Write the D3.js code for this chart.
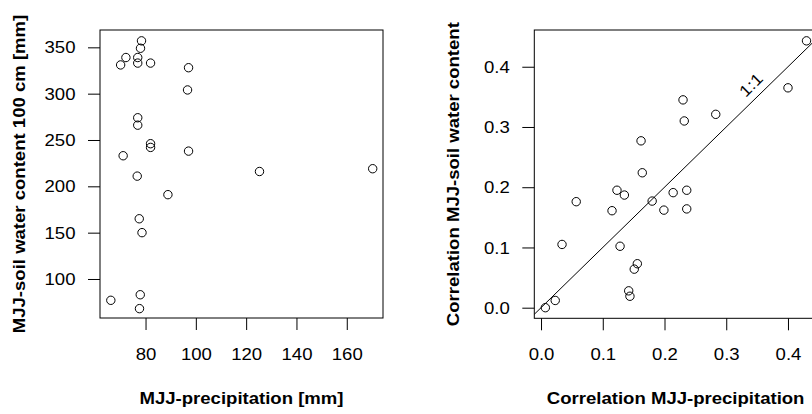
<!DOCTYPE html>
<html>
<head>
<meta charset="utf-8">
<script src="https://cdn.jsdelivr.net/npm/d3@7"></script>
<style>
  body { margin: 0; background: #fff; }
  svg { display: block; font-family: "Liberation Sans", Arial, Helvetica, sans-serif; }
</style>
</head>
<body>
<div id="chart"></div>
<script>
// left panel: MJJ precipitation vs soil water content
const precip = [70.1, 72.2, 76.9, 76.9, 78.4, 78.0, 82.0, 97.1, 96.7, 76.9, 76.9, 82.0,
                82.0, 71.1, 97.1, 76.7, 88.9, 125.3, 170.3, 77.5, 78.6, 66.2, 77.9, 77.6]
const soilWater = [331, 339, 339, 333, 357, 349, 333, 328, 304, 274, 266, 246,
                   242, 233, 238, 211, 191, 216, 219, 165, 150, 77, 83, 68]
const precipTicks = [80, 100, 120, 140, 160]
const soilTicks = [100, 150, 200, 250, 300, 350]

// right panel: correlations
const corPrecip = [0.430, 0.400, 0.283, 0.230, 0.232, 0.162, 0.164, 0.123, 0.135, 0.057, 0.180, 0.214, 0.236,
                   0.115, 0.199, 0.236, 0.034, 0.128, 0.156, 0.151, 0.142, 0.144, 0.023, 0.007]
const corSoil = [0.443, 0.365, 0.321, 0.345, 0.310, 0.277, 0.224, 0.195, 0.187, 0.176, 0.177, 0.191, 0.195,
                 0.161, 0.162, 0.164, 0.105, 0.102, 0.073, 0.064, 0.028, 0.019, 0.012, 0.000]
const corTicks = [0, 0.1, 0.2, 0.3, 0.4]
const oneToOne = [-0.05, 0.5]
const oneLabel = [0.34, 0.37]

const FS = 16, SX = 1.16

const svg = d3.select('#chart').append('svg')
    .attr('width', 812)
    .attr('height', 414)
svg.append('rect').attr('width', 812).attr('height', 414).attr('fill', '#fff')

const panel = (o) => {
    const g = svg.append('g')
    const x = d3.scaleLinear().domain(o.xDomain).range([o.left, o.right])
    const y = d3.scaleLinear().domain(o.yDomain).range([o.bottom, o.top])

    const ax = g.append('g')
        .attr('transform', 'translate(0,' + o.bottom + ')')
        .call(d3.axisBottom(x).tickValues(o.xTicks).tickSize(12).tickFormat(o.fmt))
    const ay = g.append('g')
        .attr('transform', 'translate(' + o.left + ',0)')
        .call(d3.axisLeft(y).tickValues(o.yTicks).tickSize(12).tickFormat(o.fmt))

    ;[ax, ay].forEach(a => {
        a.attr('font-family', null).attr('font-size', null)
        a.select('.domain').remove()
        a.selectAll('line').attr('stroke', '#000')
        a.selectAll('text').attr('fill', '#000').attr('font-size', FS)
    })
    ax.selectAll('text')
        .attr('y', null).attr('dy', null)
        .attr('transform', 'translate(0,42) scale(' + SX + ',1)')
    ay.selectAll('text')
        .attr('x', null).attr('dy', '0.35em')
        .attr('transform', 'translate(-24.5,0) scale(' + SX + ',1)')

    // box
    g.append('rect')
        .attr('x', o.left).attr('y', o.top)
        .attr('width', o.right - o.left).attr('height', o.bottom - o.top)
        .attr('fill', 'none').attr('stroke', '#000').attr('stroke-width', 1)

    // titles
    g.append('text')
        .attr('transform', 'translate(' + ((o.left + o.right) / 2) + ',404) scale(' + SX + ',1)')
        .attr('text-anchor', 'middle')
        .attr('font-weight', 'bold')
        .attr('font-size', FS)
        .text(o.xTitle)
    g.append('text')
        .attr('transform', 'translate(' + (o.left - 75) + ',' + ((o.top + o.bottom) / 2) + ') rotate(-90) scale(' + SX + ',1)')
        .attr('text-anchor', 'middle')
        .attr('font-weight', 'bold')
        .attr('font-size', FS)
        .text(o.yTitle)

    g.selectAll('circle.pt')
        .data(o.xs)
        .enter().append('circle')
        .attr('class', 'pt')
        .attr('cx', d => x(d))
        .attr('cy', (d, i) => y(o.ys[i]))
        .attr('r', 4.2)
        .attr('fill', 'none')
        .attr('stroke', '#000')
        .attr('stroke-width', 1)

    return { g, x, y }
}

panel({
    left: 100, right: 383, top: 30, bottom: 318,
    xDomain: [61.9, 174.4], yDomain: [57.9, 368.7],
    xTicks: precipTicks, yTicks: soilTicks, fmt: d3.format('d'),
    xs: precip, ys: soilWater,
    xTitle: 'MJJ-precipitation [mm]',
    yTitle: 'MJJ-soil water content 100 cm [mm]'
})

const right = panel({
    left: 534.3, right: 817, top: 30, bottom: 318.3,
    xDomain: [-0.0109, 0.447], yDomain: [-0.0176, 0.461],
    xTicks: corTicks, yTicks: corTicks, fmt: d3.format('.1f'),
    xs: corPrecip, ys: corSoil,
    xTitle: 'Correlation MJJ-precipitation',
    yTitle: 'Correlation MJJ-soil water content'
})

// 1:1 line
svg.append('clipPath').attr('id', 'clipR')
    .append('rect')
    .attr('x', 534.3).attr('y', 30)
    .attr('width', 817 - 534.3).attr('height', 318.3 - 30)
right.g.append('line')
    .attr('clip-path', 'url(#clipR)')
    .attr('x1', right.x(oneToOne[0])).attr('y1', right.y(oneToOne[0]))
    .attr('x2', right.x(oneToOne[1])).attr('y2', right.y(oneToOne[1]))
    .attr('stroke', '#000').attr('stroke-width', 1)
right.g.append('text')
    .attr('transform', 'translate(' + right.x(oneLabel[0]) + ',' + right.y(oneLabel[1]) + ') rotate(-45) scale(' + SX + ',1)')
    .attr('text-anchor', 'middle')
    .attr('dy', '0.35em')
    .attr('font-size', FS)
    .text('1:1')
</script>
</body>
</html>
